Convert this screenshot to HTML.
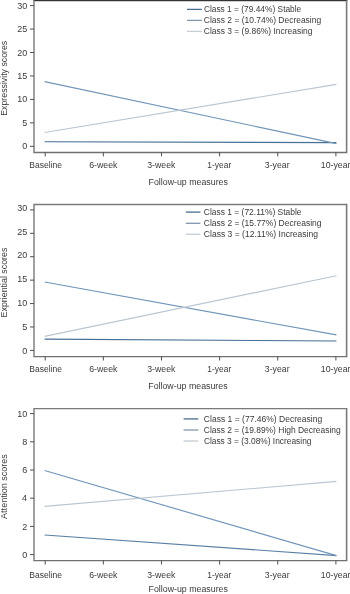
<!DOCTYPE html>
<html><head><meta charset="utf-8"><style>
html,body{margin:0;padding:0;background:#fff;}
body{width:350px;height:594px;overflow:hidden;}
svg{display:block;will-change:transform;}
text{font-family:"Liberation Sans", sans-serif;font-size:9.7px;fill:#3a3a3a;}
</style></head><body>
<svg width="350" height="594" viewBox="0 0 350 594">
<rect x="33.3" y="0" width="314.0" height="1" fill="#333"/>
<rect x="33.3" y="1" width="314.0" height="1" fill="#d0d0d0"/>
<line x1="33.3" y1="152.50" x2="347.3" y2="152.50" stroke="#707070" stroke-width="1.4"/>
<line x1="34.0" y1="0.4" x2="34.0" y2="152.4" stroke="#8a8a8a" stroke-width="1.6"/>
<line x1="346.6" y1="0.4" x2="346.6" y2="152.4" stroke="#7a7a7a" stroke-width="1.6"/>
<line x1="30" y1="146.30" x2="34.0" y2="146.30" stroke="#505050" stroke-width="1"/>
<text x="22.15" y="149.00" textLength="5.01" lengthAdjust="spacingAndGlyphs">0</text>
<line x1="30" y1="122.85" x2="34.0" y2="122.85" stroke="#505050" stroke-width="1"/>
<text x="22.17" y="126.00" textLength="5.01" lengthAdjust="spacingAndGlyphs">5</text>
<line x1="30" y1="99.40" x2="34.0" y2="99.40" stroke="#505050" stroke-width="1"/>
<text x="17.14" y="102.00" textLength="10.01" lengthAdjust="spacingAndGlyphs">10</text>
<line x1="30" y1="75.95" x2="34.0" y2="75.95" stroke="#505050" stroke-width="1"/>
<text x="17.17" y="79.00" textLength="10.01" lengthAdjust="spacingAndGlyphs">15</text>
<line x1="30" y1="52.50" x2="34.0" y2="52.50" stroke="#505050" stroke-width="1"/>
<text x="17.14" y="56.00" textLength="10.01" lengthAdjust="spacingAndGlyphs">20</text>
<line x1="30" y1="29.05" x2="34.0" y2="29.05" stroke="#505050" stroke-width="1"/>
<text x="17.17" y="32.00" textLength="10.01" lengthAdjust="spacingAndGlyphs">25</text>
<line x1="30" y1="5.60" x2="34.0" y2="5.60" stroke="#505050" stroke-width="1"/>
<text x="17.14" y="9.00" textLength="10.01" lengthAdjust="spacingAndGlyphs">30</text>
<line x1="45.20" y1="152.4" x2="45.20" y2="156.4" stroke="#505050" stroke-width="1"/>
<text x="29.30" y="168.00" textLength="32.78" lengthAdjust="spacingAndGlyphs">Baseline</text>
<line x1="103.34" y1="152.4" x2="103.34" y2="156.4" stroke="#505050" stroke-width="1"/>
<text x="89.16" y="168.00" textLength="28.23" lengthAdjust="spacingAndGlyphs">6-week</text>
<line x1="161.48" y1="152.4" x2="161.48" y2="156.4" stroke="#505050" stroke-width="1"/>
<text x="147.27" y="168.00" textLength="28.12" lengthAdjust="spacingAndGlyphs">3-week</text>
<line x1="219.62" y1="152.4" x2="219.62" y2="156.4" stroke="#505050" stroke-width="1"/>
<text x="207.36" y="168.00" textLength="23.88" lengthAdjust="spacingAndGlyphs">1-year</text>
<line x1="277.76" y1="152.4" x2="277.76" y2="156.4" stroke="#505050" stroke-width="1"/>
<text x="264.87" y="168.00" textLength="24.68" lengthAdjust="spacingAndGlyphs">3-year</text>
<line x1="335.90" y1="152.4" x2="335.90" y2="156.4" stroke="#505050" stroke-width="1"/>
<text x="320.83" y="168.00" textLength="29.61" lengthAdjust="spacingAndGlyphs">10-year</text>
<text x="148.58" y="185.00" textLength="79.34" lengthAdjust="spacingAndGlyphs">Follow-up measures</text>
<g transform="translate(7.4,0) rotate(-90)"><text x="-115.72" y="0.00" textLength="74.93" lengthAdjust="spacingAndGlyphs">Expressivity scores</text></g>
<line x1="44.6" y1="141.70" x2="336.4" y2="142.69" stroke="#466f96" stroke-width="1.15"/>
<line x1="44.6" y1="81.58" x2="336.4" y2="143.63" stroke="#7095b8" stroke-width="1.15"/>
<line x1="44.6" y1="132.46" x2="336.4" y2="84.39" stroke="#bac6d1" stroke-width="1.15"/>
<line x1="187.0" y1="9.4" x2="201.9" y2="9.4" stroke="#4a6e90" stroke-width="1.3"/>
<text x="203.88" y="12.00" textLength="97.40" lengthAdjust="spacingAndGlyphs">Class 1 = (79.44%) Stable</text>
<line x1="187.0" y1="20.4" x2="201.9" y2="20.4" stroke="#8397ab" stroke-width="1.3"/>
<text x="203.87" y="23.00" textLength="117.27" lengthAdjust="spacingAndGlyphs">Class 2 = (10.74%) Decreasing</text>
<line x1="187.0" y1="31.4" x2="201.9" y2="31.4" stroke="#c6cdd4" stroke-width="1.3"/>
<text x="203.87" y="34.00" textLength="108.57" lengthAdjust="spacingAndGlyphs">Class 3 = (9.86%) Increasing</text>
<line x1="33.3" y1="204.5" x2="347.3" y2="204.5" stroke="#7a7a7a" stroke-width="1.4"/>
<line x1="33.3" y1="356.60" x2="347.3" y2="356.60" stroke="#707070" stroke-width="1.4"/>
<line x1="34.0" y1="204.5" x2="34.0" y2="356.5" stroke="#8a8a8a" stroke-width="1.6"/>
<line x1="346.6" y1="204.5" x2="346.6" y2="356.5" stroke="#7a7a7a" stroke-width="1.6"/>
<line x1="30" y1="350.40" x2="34.0" y2="350.40" stroke="#505050" stroke-width="1"/>
<text x="22.15" y="354.00" textLength="5.01" lengthAdjust="spacingAndGlyphs">0</text>
<line x1="30" y1="326.98" x2="34.0" y2="326.98" stroke="#505050" stroke-width="1"/>
<text x="22.17" y="330.00" textLength="5.01" lengthAdjust="spacingAndGlyphs">5</text>
<line x1="30" y1="303.57" x2="34.0" y2="303.57" stroke="#505050" stroke-width="1"/>
<text x="17.14" y="306.00" textLength="10.01" lengthAdjust="spacingAndGlyphs">10</text>
<line x1="30" y1="280.15" x2="34.0" y2="280.15" stroke="#505050" stroke-width="1"/>
<text x="17.17" y="282.00" textLength="10.01" lengthAdjust="spacingAndGlyphs">15</text>
<line x1="30" y1="256.73" x2="34.0" y2="256.73" stroke="#505050" stroke-width="1"/>
<text x="17.14" y="258.00" textLength="10.01" lengthAdjust="spacingAndGlyphs">20</text>
<line x1="30" y1="233.32" x2="34.0" y2="233.32" stroke="#505050" stroke-width="1"/>
<text x="17.17" y="235.00" textLength="10.01" lengthAdjust="spacingAndGlyphs">25</text>
<line x1="30" y1="209.90" x2="34.0" y2="209.90" stroke="#505050" stroke-width="1"/>
<text x="17.14" y="211.00" textLength="10.01" lengthAdjust="spacingAndGlyphs">30</text>
<line x1="45.20" y1="356.5" x2="45.20" y2="360.5" stroke="#505050" stroke-width="1"/>
<text x="29.30" y="372.00" textLength="32.78" lengthAdjust="spacingAndGlyphs">Baseline</text>
<line x1="103.34" y1="356.5" x2="103.34" y2="360.5" stroke="#505050" stroke-width="1"/>
<text x="89.16" y="372.00" textLength="28.23" lengthAdjust="spacingAndGlyphs">6-week</text>
<line x1="161.48" y1="356.5" x2="161.48" y2="360.5" stroke="#505050" stroke-width="1"/>
<text x="147.27" y="372.00" textLength="28.12" lengthAdjust="spacingAndGlyphs">3-week</text>
<line x1="219.62" y1="356.5" x2="219.62" y2="360.5" stroke="#505050" stroke-width="1"/>
<text x="207.36" y="372.00" textLength="23.88" lengthAdjust="spacingAndGlyphs">1-year</text>
<line x1="277.76" y1="356.5" x2="277.76" y2="360.5" stroke="#505050" stroke-width="1"/>
<text x="264.87" y="372.00" textLength="24.68" lengthAdjust="spacingAndGlyphs">3-year</text>
<line x1="335.90" y1="356.5" x2="335.90" y2="360.5" stroke="#505050" stroke-width="1"/>
<text x="320.83" y="372.00" textLength="29.61" lengthAdjust="spacingAndGlyphs">10-year</text>
<text x="148.28" y="389.00" textLength="79.34" lengthAdjust="spacingAndGlyphs">Follow-up measures</text>
<g transform="translate(7.4,0) rotate(-90)"><text x="-317.43" y="0.00" textLength="69.85" lengthAdjust="spacingAndGlyphs">Expriential scores</text></g>
<line x1="44.6" y1="339.16" x2="336.4" y2="341.03" stroke="#466f96" stroke-width="1.15"/>
<line x1="44.6" y1="282.02" x2="336.4" y2="334.94" stroke="#7095b8" stroke-width="1.15"/>
<line x1="44.6" y1="336.35" x2="336.4" y2="275.70" stroke="#bac6d1" stroke-width="1.15"/>
<line x1="185.8" y1="212.1" x2="200.4" y2="212.1" stroke="#4a6e90" stroke-width="1.3"/>
<text x="203.87" y="215.00" textLength="97.60" lengthAdjust="spacingAndGlyphs">Class 1 = (72.11%) Stable</text>
<line x1="185.8" y1="223.3" x2="200.4" y2="223.3" stroke="#8397ab" stroke-width="1.3"/>
<text x="203.87" y="226.00" textLength="117.58" lengthAdjust="spacingAndGlyphs">Class 2 = (15.77%) Decreasing</text>
<line x1="185.8" y1="234.3" x2="200.4" y2="234.3" stroke="#c6cdd4" stroke-width="1.3"/>
<text x="203.87" y="237.00" textLength="114.08" lengthAdjust="spacingAndGlyphs">Class 3 = (12.11%) Increasing</text>
<line x1="33.3" y1="408.6" x2="347.3" y2="408.6" stroke="#7a7a7a" stroke-width="1.4"/>
<line x1="33.3" y1="560.60" x2="347.3" y2="560.60" stroke="#707070" stroke-width="1.4"/>
<line x1="34.0" y1="408.6" x2="34.0" y2="560.5" stroke="#8a8a8a" stroke-width="1.6"/>
<line x1="346.6" y1="408.6" x2="346.6" y2="560.5" stroke="#7a7a7a" stroke-width="1.6"/>
<line x1="30" y1="554.60" x2="34.0" y2="554.60" stroke="#505050" stroke-width="1"/>
<text x="22.15" y="558.00" textLength="5.01" lengthAdjust="spacingAndGlyphs">0</text>
<line x1="30" y1="526.40" x2="34.0" y2="526.40" stroke="#505050" stroke-width="1"/>
<text x="22.25" y="530.00" textLength="5.01" lengthAdjust="spacingAndGlyphs">2</text>
<line x1="30" y1="498.20" x2="34.0" y2="498.20" stroke="#505050" stroke-width="1"/>
<text x="22.06" y="501.00" textLength="5.01" lengthAdjust="spacingAndGlyphs">4</text>
<line x1="30" y1="470.00" x2="34.0" y2="470.00" stroke="#505050" stroke-width="1"/>
<text x="22.19" y="473.00" textLength="5.01" lengthAdjust="spacingAndGlyphs">6</text>
<line x1="30" y1="441.80" x2="34.0" y2="441.80" stroke="#505050" stroke-width="1"/>
<text x="22.19" y="445.00" textLength="5.01" lengthAdjust="spacingAndGlyphs">8</text>
<line x1="30" y1="413.60" x2="34.0" y2="413.60" stroke="#505050" stroke-width="1"/>
<text x="17.14" y="417.00" textLength="10.01" lengthAdjust="spacingAndGlyphs">10</text>
<line x1="45.20" y1="560.5" x2="45.20" y2="564.5" stroke="#505050" stroke-width="1"/>
<text x="29.30" y="578.00" textLength="32.78" lengthAdjust="spacingAndGlyphs">Baseline</text>
<line x1="103.34" y1="560.5" x2="103.34" y2="564.5" stroke="#505050" stroke-width="1"/>
<text x="89.16" y="578.00" textLength="28.23" lengthAdjust="spacingAndGlyphs">6-week</text>
<line x1="161.48" y1="560.5" x2="161.48" y2="564.5" stroke="#505050" stroke-width="1"/>
<text x="147.27" y="578.00" textLength="28.12" lengthAdjust="spacingAndGlyphs">3-week</text>
<line x1="219.62" y1="560.5" x2="219.62" y2="564.5" stroke="#505050" stroke-width="1"/>
<text x="207.36" y="578.00" textLength="23.88" lengthAdjust="spacingAndGlyphs">1-year</text>
<line x1="277.76" y1="560.5" x2="277.76" y2="564.5" stroke="#505050" stroke-width="1"/>
<text x="264.87" y="578.00" textLength="24.68" lengthAdjust="spacingAndGlyphs">3-year</text>
<line x1="335.90" y1="560.5" x2="335.90" y2="564.5" stroke="#505050" stroke-width="1"/>
<text x="320.83" y="578.00" textLength="29.61" lengthAdjust="spacingAndGlyphs">10-year</text>
<text x="148.58" y="592.00" textLength="79.34" lengthAdjust="spacingAndGlyphs">Follow-up measures</text>
<g transform="translate(7.4,0) rotate(-90)"><text x="-518.92" y="0.00" textLength="64.74" lengthAdjust="spacingAndGlyphs">Attention scores</text></g>
<line x1="44.6" y1="535.00" x2="336.4" y2="555.59" stroke="#5a80a5" stroke-width="1.15"/>
<line x1="44.6" y1="470.56" x2="336.4" y2="555.59" stroke="#7095b8" stroke-width="1.15"/>
<line x1="44.6" y1="506.38" x2="336.4" y2="481.42" stroke="#bac6d1" stroke-width="1.15"/>
<line x1="183.6" y1="418.9" x2="198.3" y2="418.9" stroke="#4a6e90" stroke-width="1.3"/>
<text x="203.87" y="422.00" textLength="118.38" lengthAdjust="spacingAndGlyphs">Class 1 = (77.46%) Decreasing</text>
<line x1="183.6" y1="430.0" x2="198.3" y2="430.0" stroke="#8397ab" stroke-width="1.3"/>
<text x="203.87" y="433.00" textLength="136.87" lengthAdjust="spacingAndGlyphs">Class 2 = (19.89%) High Decreasing</text>
<line x1="183.6" y1="441.0" x2="198.3" y2="441.0" stroke="#c6cdd4" stroke-width="1.3"/>
<text x="203.88" y="444.00" textLength="107.56" lengthAdjust="spacingAndGlyphs">Class 3 = (3.08%) Increasing</text>
</svg>
</body></html>
